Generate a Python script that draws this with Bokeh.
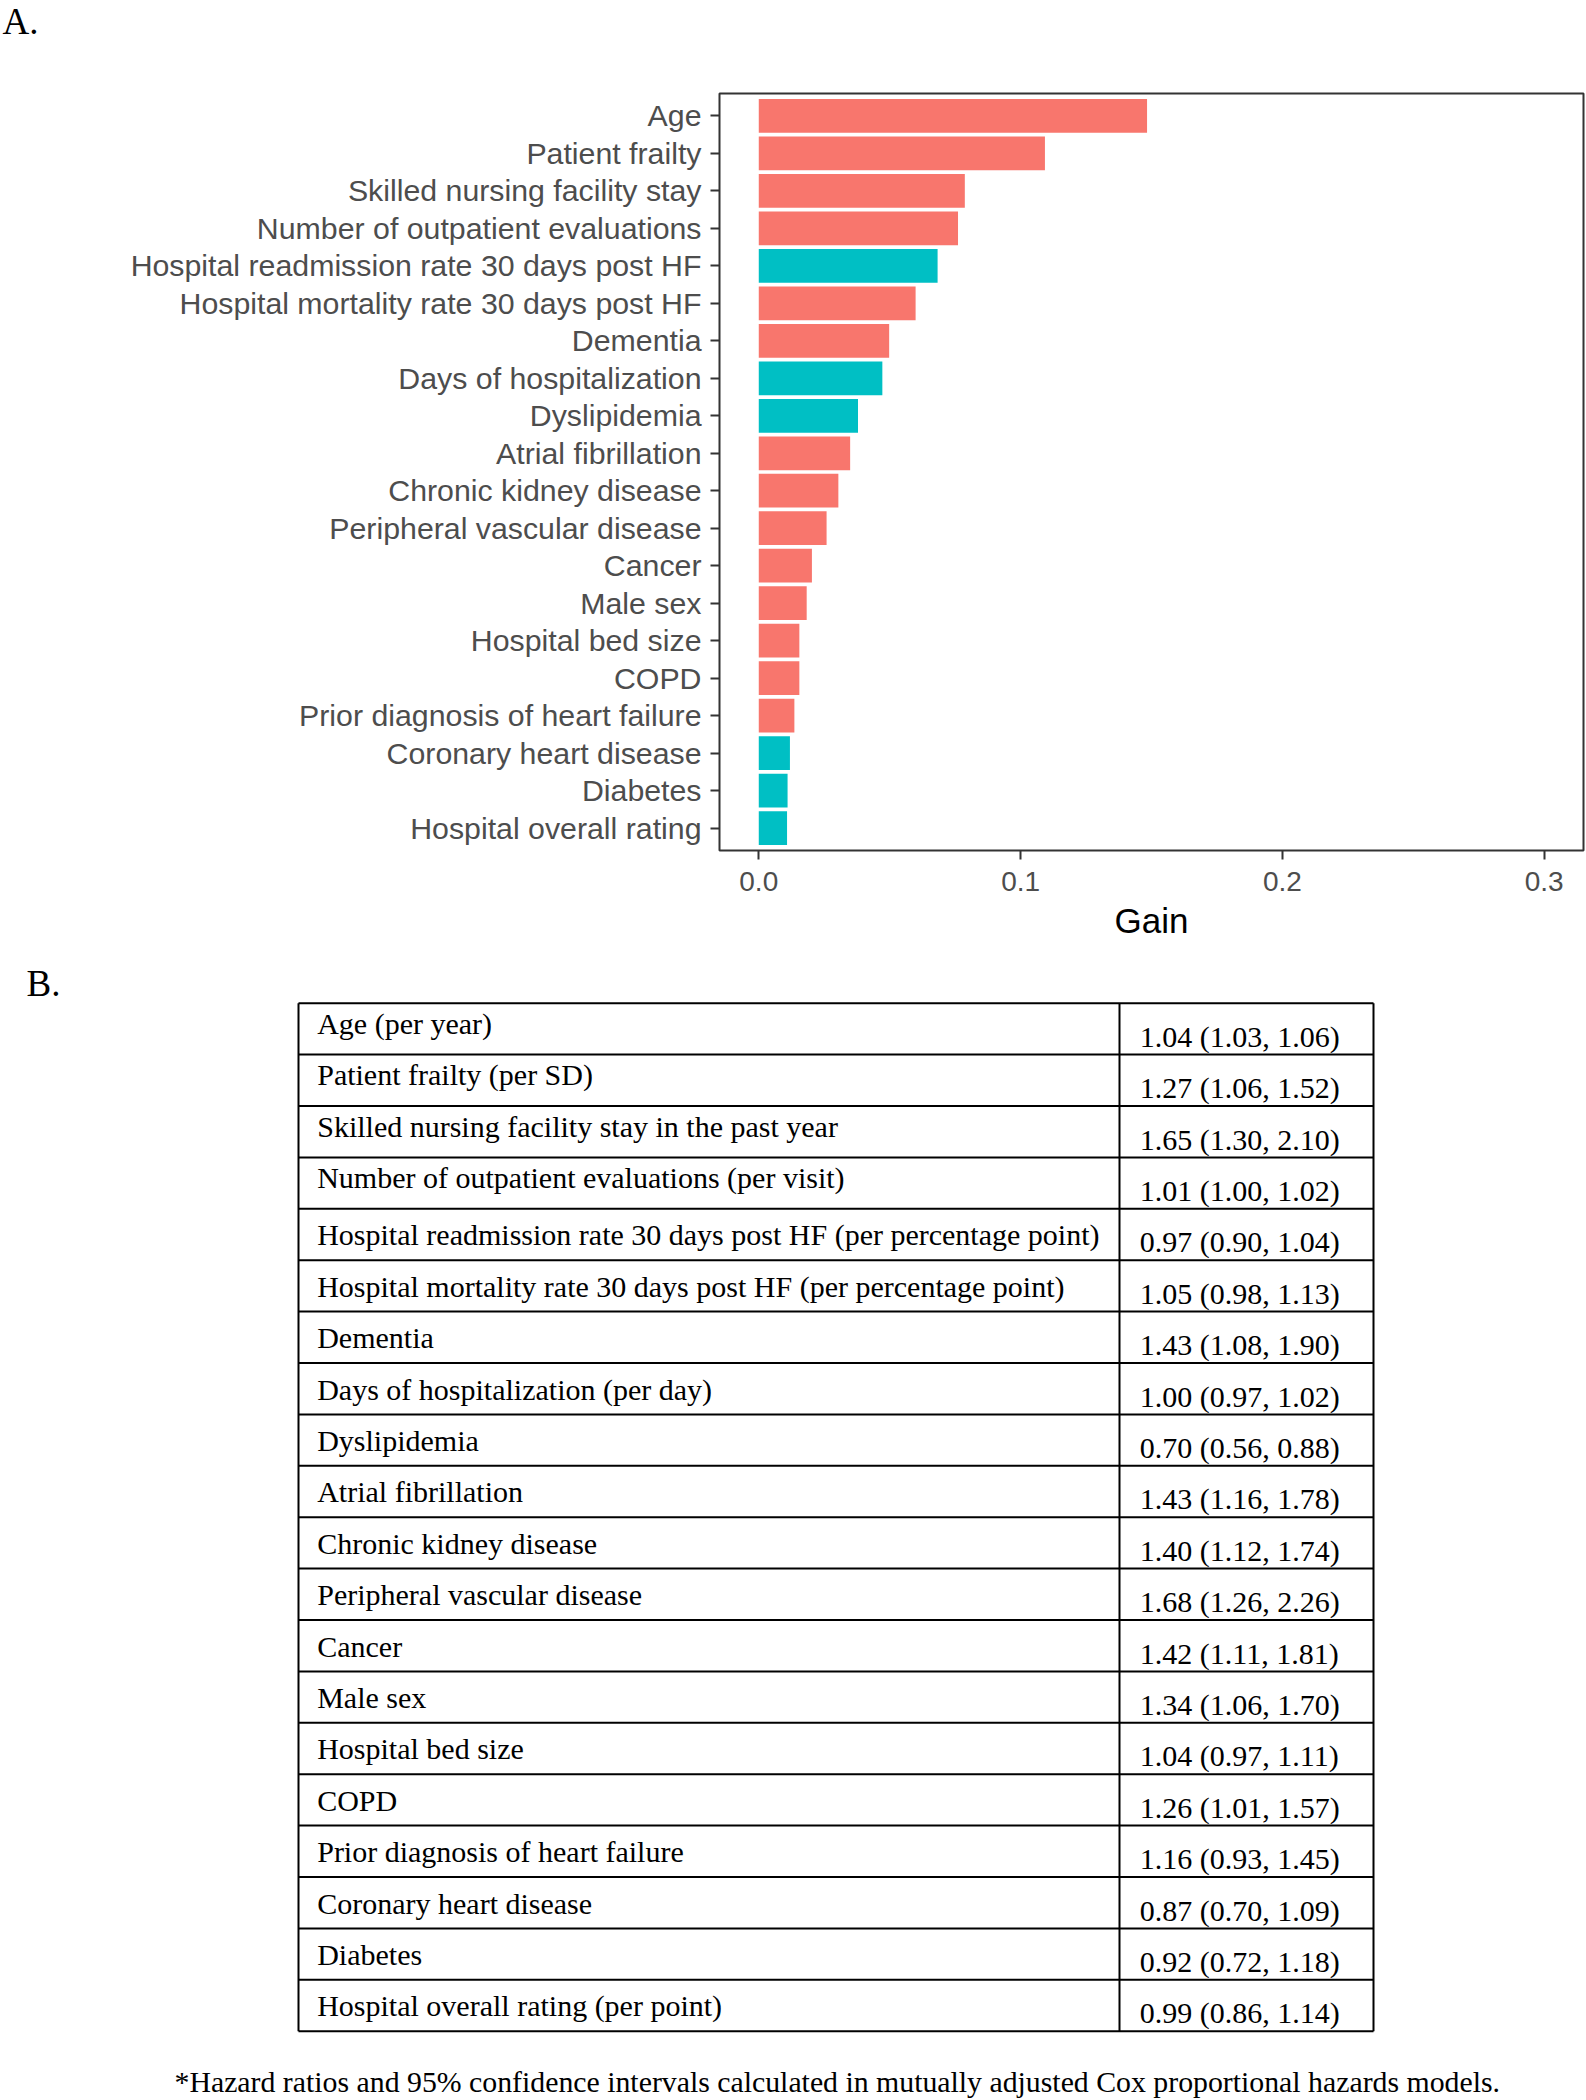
from bokeh.plotting import figure
from bokeh.models import Range1d, FixedTicker, ColumnDataSource, NumeralTickFormatter
from bokeh.transform import factor_cmap
from bokeh.embed import file_html
from bokeh.resources import INLINE
from bokeh.core.properties import value

# ---------------- data ----------------
features = [
    "Age", "Patient frailty", "Skilled nursing facility stay",
    "Number of outpatient evaluations", "Hospital readmission rate 30 days post HF",
    "Hospital mortality rate 30 days post HF", "Dementia", "Days of hospitalization",
    "Dyslipidemia", "Atrial fibrillation", "Chronic kidney disease",
    "Peripheral vascular disease", "Cancer", "Male sex", "Hospital bed size", "COPD",
    "Prior diagnosis of heart failure", "Coronary heart disease", "Diabetes",
    "Hospital overall rating",
]
gain = [0.1483, 0.1093, 0.0787, 0.0761, 0.0683, 0.0599, 0.0498, 0.0472, 0.0379, 0.0349,
        0.0304, 0.0259, 0.0203, 0.0183, 0.0155, 0.0155, 0.0136, 0.0119, 0.0110, 0.0108]

x_ticks = [0.0, 0.1, 0.2, 0.3]
x_tick_labels = ["0.0", "0.1", "0.2", "0.3"]

table_labels = [
    "Age (per year)", "Patient frailty (per SD)", "Skilled nursing facility stay in the past year",
    "Number of outpatient evaluations (per visit)",
    "Hospital readmission rate 30 days post HF (per percentage point)",
    "Hospital mortality rate 30 days post HF (per percentage point)", "Dementia",
    "Days of hospitalization (per day)", "Dyslipidemia", "Atrial fibrillation",
    "Chronic kidney disease", "Peripheral vascular disease", "Cancer", "Male sex",
    "Hospital bed size", "COPD", "Prior diagnosis of heart failure", "Coronary heart disease",
    "Diabetes", "Hospital overall rating (per point)",
]
hr = [1.04, 1.27, 1.65, 1.01, 0.97, 1.05, 1.43, 1.00, 0.70, 1.43,
      1.40, 1.68, 1.42, 1.34, 1.04, 1.26, 1.16, 0.87, 0.92, 0.99]
ci_low = [1.03, 1.06, 1.30, 1.00, 0.90, 0.98, 1.08, 0.97, 0.56, 1.16,
          1.12, 1.26, 1.11, 1.06, 0.97, 1.01, 0.93, 0.70, 0.72, 0.86]
ci_high = [1.06, 1.52, 2.10, 1.02, 1.04, 1.13, 1.90, 1.02, 0.88, 1.78,
           1.74, 2.26, 1.81, 1.70, 1.11, 1.57, 1.45, 1.09, 1.18, 1.14]

footnote = "*Hazard ratios and 95% confidence intervals calculated in mutually adjusted Cox proportional hazards models."

n = len(features)
direction = ["higher" if h > 1.0 else "lower" for h in hr]
hr_text = [f"{h:.2f} ({lo:.2f}, {hi:.2f})" for h, lo, hi in zip(hr, ci_low, ci_high)]
rank_pos = [float(n - i) for i in range(n)]          # first feature on top

SERIF = "Liberation Serif"

# ---------------- layout constants (page pixels) ----------------
FRAME_L, FRAME_T, FRAME_W, FRAME_H = 719, 93, 864, 757
CANVAS_W, CANVAS_H = 1586, 2100

# ---------------- panel A: bar chart ----------------
src = ColumnDataSource(dict(feature=features, pos=rank_pos, gain=gain, direction=direction))

p = figure(y_range=Range1d(0.4, n + 0.6), x_range=Range1d(-0.015, 0.315),
           frame_width=FRAME_W, frame_height=FRAME_H,
           min_border_left=FRAME_L,
           min_border_right=CANVAS_W - FRAME_L - FRAME_W,
           min_border_top=FRAME_T,
           min_border_bottom=CANVAS_H - FRAME_T - FRAME_H,
           output_backend="svg", toolbar_location=None)
p.hbar(y="pos", left=0, right="gain", height=0.9, source=src,
       fill_color=factor_cmap("direction", palette=["#F8766D", "#00BFC4"],
                              factors=["higher", "lower"]),
       line_color=None)

p.grid.visible = False
p.outline_line_color = "#333333"
p.outline_line_width = 2

for ax in (p.xaxis[0], p.yaxis[0]):
    ax.axis_line_color = None
    ax.major_tick_line_color = "#333333"
    ax.major_tick_line_width = 2
    ax.major_tick_out = 9
    ax.major_tick_in = 0
    ax.minor_tick_line_color = None
    ax.major_label_text_font = "Liberation Sans"
    ax.major_label_text_color = "#4D4D4D"

p.yaxis.ticker = FixedTicker(ticks=rank_pos)
p.yaxis.major_label_overrides = {pos: name for pos, name in zip(rank_pos, features)}
p.yaxis.major_label_text_font_size = "30.3px"
p.yaxis.major_label_standoff = 9

p.xaxis.ticker = FixedTicker(ticks=x_ticks)
p.xaxis.formatter = NumeralTickFormatter(format="0.0")
p.xaxis.major_label_overrides = {t: l for t, l in zip(x_ticks, x_tick_labels)}
p.xaxis.major_label_text_font_size = "28px"
p.xaxis.major_label_standoff = 12
p.xaxis.axis_label = "Gain"
p.xaxis.axis_label_text_font = "Liberation Sans"
p.xaxis.axis_label_text_font_size = "35px"
p.xaxis.axis_label_text_font_style = "normal"
p.xaxis.axis_label_text_color = "black"
p.xaxis.axis_label_standoff = 7

# page-pixel coordinate system for the non-chart parts (labels, table, footnote)
p.extra_x_ranges = {"px": Range1d(FRAME_L, FRAME_L + FRAME_W)}
p.extra_y_ranges = {"py": Range1d(FRAME_T + FRAME_H, FRAME_T)}
PG = dict(x_range_name="px", y_range_name="py", level="annotation",
          text_font=value(SERIF), text_color="black", text_baseline="alphabetic",
          text_align="left")

p.text(x=[2], y=[21], text=["A."], text_font_size="37px", **PG)

# ---------------- panel B: table ----------------
T_LEFT, T_MID, T_RIGHT = 298, 1119, 1373
T_TOP, ROW_H = 1002.7, 51.4

row_tops = [T_TOP + i * ROW_H for i in range(n + 1)]
LN = dict(x_range_name="px", y_range_name="py", level="annotation",
          line_color="black", line_width=2)
p.segment(x0=[T_LEFT] * (n + 1), x1=[T_RIGHT] * (n + 1), y0=row_tops, y1=row_tops, **LN)
p.segment(x0=[T_LEFT, T_MID, T_RIGHT], x1=[T_LEFT, T_MID, T_RIGHT],
          y0=[T_TOP] * 3, y1=[row_tops[-1]] * 3, **LN)

left_y = [row_tops[i] + (20 if i < 4 else 26) for i in range(n)]
right_y = [row_tops[i] + 33 for i in range(n)]
p.text(x=[316.7] * n, y=left_y, text=table_labels, text_font_size="30px", **PG)
p.text(x=[1139.3] * n, y=right_y, text=hr_text, text_font_size="30px", **PG)

p.text(x=[26], y=[983], text=["B."], text_font_size="37px", **PG)
p.text(x=[174], y=[2081], text=[footnote], text_font_size="29.8px", **PG)

open("out.html", "w").write(file_html(p, INLINE))
